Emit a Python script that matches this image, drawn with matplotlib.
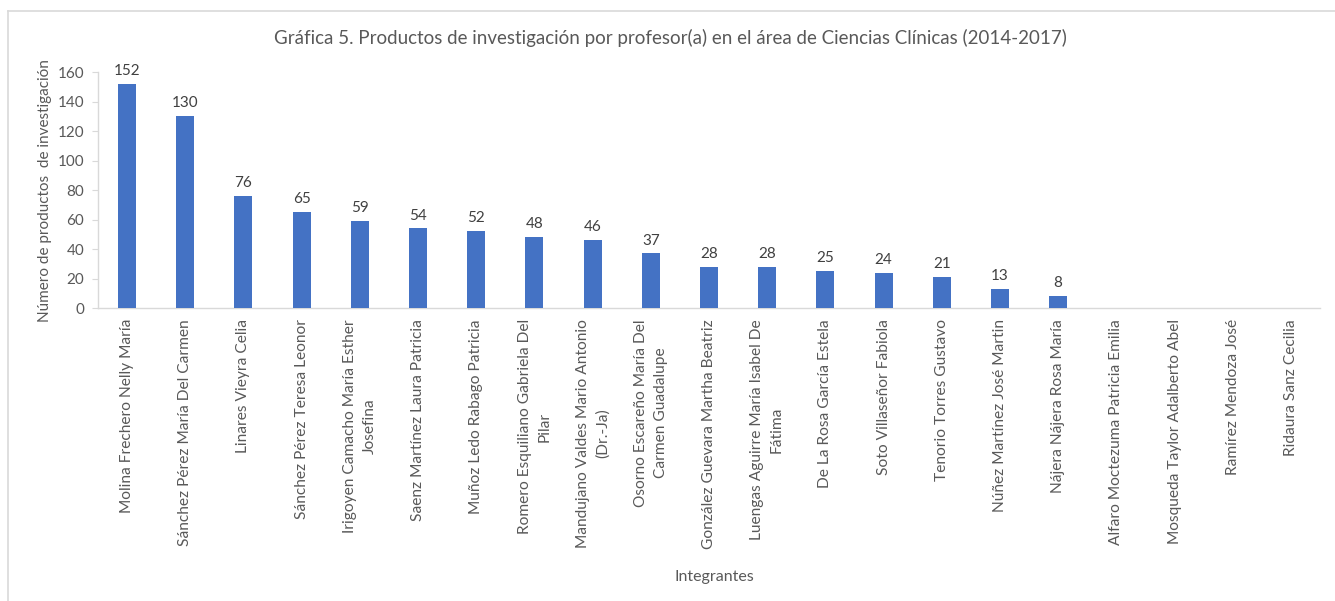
import matplotlib
matplotlib.use("Agg")
import matplotlib.pyplot as plt
from matplotlib.lines import Line2D
import numpy as np

# Datos de la gráfica
integrantes = [
    "Molina Frechero Nelly María",
    "Sánchez Pérez María Del Carmen",
    "Linares Vieyra Celia",
    "Sánchez Pérez Teresa Leonor",
    "Irigoyen Camacho María Esther\nJosefina",
    "Saenz Martínez Laura Patricia",
    "Muñoz Ledo Rabago Patricia",
    "Romero Esquiliano Gabriela Del\nPilar",
    "Mandujano Valdes Mario Antonio\n(Dr.-Ja)",
    "Osorno Escareño María Del\nCarmen Guadalupe",
    "González Guevara Martha Beatriz",
    "Luengas Aguirre María Isabel De\nFátima",
    "De La Rosa García Estela",
    "Soto Villaseñor Fabiola",
    "Tenorio Torres Gustavo",
    "Núñez Martínez José Martin",
    "Nájera Nájera Rosa María",
    "Alfaro Moctezuma Patricia Emilia",
    "Mosqueda Taylor Adalberto Abel",
    "Ramírez Mendoza José",
    "Ridaura Sanz Cecilia",
]
productos = [152, 130, 76, 65, 59, 54, 52, 48, 46, 37, 28, 28, 25, 24, 21, 13, 8, 0, 0, 0, 0]
yticks = [0, 20, 40, 60, 80, 100, 120, 140, 160]

GRIS = "#595959"
plt.rcParams["font.family"] = ["Lato", "DejaVu Sans"]

fig = plt.figure(figsize=(13.35, 6.01), dpi=100)
ax = fig.add_axes([0.0734, 0.4875, 0.9154, 0.3925])

x = np.arange(len(integrantes))
bars = ax.bar(x, productos, width=0.31, color="#4472C4", zorder=3)

for b, v in zip(bars, productos):
    if v > 0:
        ax.text(b.get_x() + b.get_width() / 2, v + 4, str(v),
                ha="center", va="bottom", fontsize=11, color="#404040")

ax.set_xlim(-0.5, len(integrantes) - 0.5)
ax.set_ylim(0, 160)
ax.set_yticks(yticks)
ax.set_xticks(x)
ax.set_xticklabels(integrantes, rotation=90, ha="center", va="top",
                   fontsize=11.2, color=GRIS, multialignment="center",
                   linespacing=1.5)
ax.tick_params(axis="x", length=0, pad=8)
ax.tick_params(axis="y", length=4, color="#D9D9D9", labelsize=11, labelcolor=GRIS, pad=6)

for s in ["top", "right"]:
    ax.spines[s].set_visible(False)
for s in ["left", "bottom"]:
    ax.spines[s].set_color("#D9D9D9")
    ax.spines[s].set_linewidth(1)

ax.set_ylabel("Número de productos  de investigación", fontsize=11, color=GRIS, labelpad=4)
fig.text(0.535, 0.04, "Integrantes", ha="center", va="center", fontsize=11.5, color=GRIS)
fig.text(0.502, 0.937, "Gráfica 5. Productos de investigación por profesor(a) en el área de Ciencias Clínicas (2014-2017)",
         ha="center", va="center", fontsize=13.5, color=GRIS)

# Marco del área del gráfico
fig.add_artist(Line2D([8 / 1335, 1], [1 - 11 / 601, 1 - 11 / 601], color="#D9D9D9", lw=1.2))
fig.add_artist(Line2D([8 / 1335, 8 / 1335], [0, 1 - 11 / 601], color="#D9D9D9", lw=1.2))

fig.savefig("out.png", dpi=100)
